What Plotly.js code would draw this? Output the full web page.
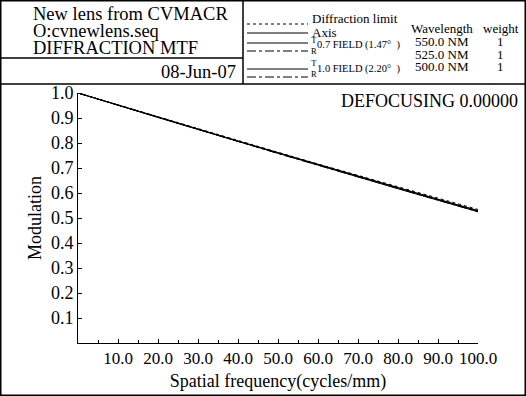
<!DOCTYPE html>
<html><head><meta charset="utf-8">
<script src="https://cdn.plot.ly/plotly-3.0.1.min.js"></script>
<style>html,body{margin:0;padding:0;background:#fff}#chart{width:526px;height:396px}</style>
</head><body><div id="chart"></div>
<script>
// Data
const freq = [0, 10, 20, 30, 40, 50, 60, 70, 80, 90, 100];
const diffraction = [1.0, 0.952, 0.905, 0.857, 0.810, 0.763, 0.716, 0.670, 0.624, 0.579, 0.534];
const axisMTF     = [1.0, 0.951, 0.904, 0.856, 0.808, 0.761, 0.714, 0.667, 0.621, 0.575, 0.530];
const t07 = [1.0, 0.951, 0.903, 0.855, 0.807, 0.760, 0.713, 0.666, 0.619, 0.573, 0.528];
const r07 = [1.0, 0.951, 0.903, 0.855, 0.807, 0.759, 0.712, 0.665, 0.618, 0.572, 0.527];
const t10 = [1.0, 0.950, 0.902, 0.854, 0.806, 0.758, 0.711, 0.664, 0.617, 0.571, 0.525];
const r10 = [1.0, 0.951, 0.902, 0.854, 0.806, 0.758, 0.711, 0.664, 0.617, 0.570, 0.525];
const xTicks = [10, 20, 30, 40, 50, 60, 70, 80, 90, 100];
const xTickText = ["10.0","20.0","30.0","40.0","50.0","60.0","70.0","80.0","90.0","100.0"];
const yTicks = [0.1,0.2,0.3,0.4,0.5,0.6,0.7,0.8,0.9,1.0];
const yTickText = ["0.1","0.2","0.3","0.4","0.5","0.6","0.7","0.8","0.9","1.0"];
const headerLines = ["New lens from CVMACR", "O:cvnewlens.seq", "DIFFRACTION MTF"];
const dateText = "08-Jun-07";
const wavelengths = ["550.0 NM", "525.0 NM", "500.0 NM"];
const weights = ["1", "1", "1"];

const SERIF = "Liberation Serif, Times New Roman, serif";
const L = 78, R = 478, T = 93, B = 343;
const X = px => (px - L) / (R - L);
const Y = py => (B - py) / (B - T);

const mk = (y, dash, name) => ({x: freq, y: y, type: 'scatter', mode: 'lines', name: name,
  line: {color: '#000', width: 1, dash: dash}, hoverinfo: 'skip'});
const traces = [
  mk(diffraction, 'dot', 'Diffraction limit'),
  mk(axisMTF, 'solid', 'Axis'),
  mk(t07, 'solid', 'T 0.7 FIELD'),
  mk(r07, 'dashdot', 'R 0.7 FIELD'),
  mk(t10, 'solid', 'T 1.0 FIELD'),
  mk(r10, 'dashdot', 'R 1.0 FIELD')
];

const line = (x0, y0, x1, y1, w, dash) => ({type: 'line', xref: 'paper', yref: 'paper',
  x0: X(x0), y0: Y(y0), x1: X(x1), y1: Y(y1), line: {color: '#000', width: w || 1, dash: dash || 'solid'}});

const shapes = [
  {type: 'rect', xref: 'paper', yref: 'paper', x0: X(0.75), x1: X(525.25), y0: Y(395.25), y1: Y(0.75),
   line: {color: '#000', width: 1.5}},
  line(0, 84, 526, 84, 1.5),
  line(243, 0, 243, 84, 1.5),
  line(0, 58, 243, 58, 1.5),
  // legend samples
  line(247, 24, 308, 24, 1, 'dot'),
  line(247, 33, 308, 33, 1),
  line(247, 43, 308, 43, 1),
  line(247, 51, 308, 51, 1, 'dashdot'),
  line(247, 69, 308, 69, 1),
  line(247, 77, 308, 77, 1, 'dashdot')
];

const ann = (px, py, text, size, xanchor, extra) => Object.assign({xref: 'paper', yref: 'paper',
  x: X(px), y: Y(py), text: text, showarrow: false, xanchor: xanchor || 'left', yanchor: 'middle',
  borderpad: 0, font: {family: SERIF, size: size, color: '#000'}}, extra || {});

const annotations = [
  ann(32, 14, headerLines[0], 18.5),
  ann(32, 31, headerLines[1], 18.5),
  ann(32, 48, headerLines[2], 18.5),
  ann(237, 72, dateText, 18.5, 'right'),
  ann(311, 19, "Diffraction limit", 13),
  ann(311, 32, "Axis", 13),
  ann(310, 45, "T<br>R", 8.5),
  ann(316, 45, "0.7 FIELD (1.47°  )", 10.5),
  ann(310, 69, "T<br>R", 8.5),
  ann(316, 69, "1.0 FIELD (2.20°  )", 10.5),
  ann(442, 28, "Wavelength", 13, 'center'),
  ann(501, 28, "weight", 13, 'center'),
  ann(442, 41, wavelengths[0], 13, 'center'),
  ann(442, 54, wavelengths[1], 13, 'center'),
  ann(442, 67, wavelengths[2], 13, 'center'),
  ann(500, 41, weights[0], 13, 'center'),
  ann(500, 54, weights[1], 13, 'center'),
  ann(500, 67, weights[2], 13, 'center'),
  ann(519, 101, "DEFOCUSING 0.00000", 18, 'right')
];

const layout = {
  width: 526, height: 396,
  margin: {l: L, r: 526 - R, t: T, b: 396 - B},
  paper_bgcolor: '#fff', plot_bgcolor: '#fff',
  showlegend: false,
  font: {family: SERIF, size: 16, color: '#000'},
  xaxis: {range: [0, 100], tickvals: xTicks, ticktext: xTickText, ticks: 'inside', ticklen: 4,
    tickcolor: '#000', showgrid: false, zeroline: false, showline: true, linecolor: '#000', linewidth: 1,
    minor: {tickvals: [5,15,25,35,45,55,65,75,85,95], ticks: 'inside', ticklen: 3, tickcolor: '#000'},
    tickfont: {family: SERIF, size: 17},
    title: {text: 'Spatial frequency(cycles/mm)', font: {family: SERIF, size: 18}, standoff: 6}},
  yaxis: {range: [0, 1], tickvals: yTicks, ticktext: yTickText, ticks: 'inside', ticklen: 4,
    tickcolor: '#000', showgrid: false, zeroline: false, showline: true, linecolor: '#000', linewidth: 1,
    tickfont: {family: SERIF, size: 18},
    title: {text: 'Modulation', font: {family: SERIF, size: 18}, standoff: 4}},
  shapes: shapes,
  annotations: annotations
};

Plotly.newPlot('chart', traces, layout, {staticPlot: true, displayModeBar: false});
</script>
</body></html>
